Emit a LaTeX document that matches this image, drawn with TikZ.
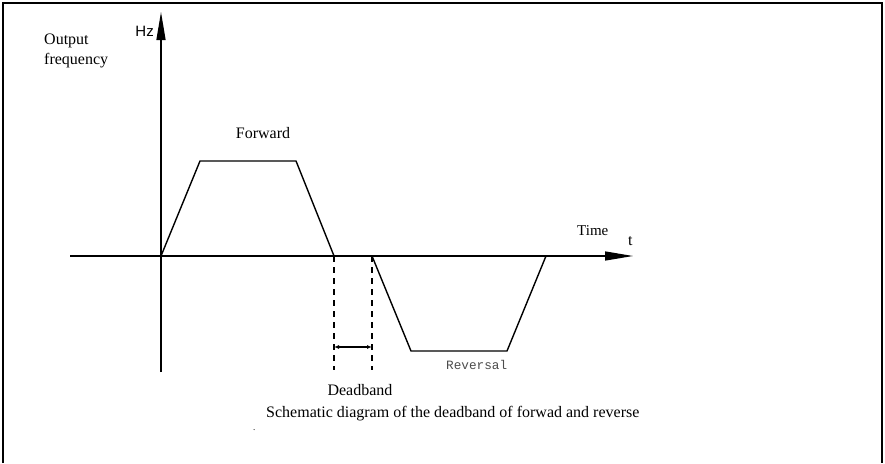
\documentclass[tikz,border=0pt]{standalone}
\usepackage{fontspec}
\setmainfont{Liberation Serif}
\setmonofont{Liberation Mono}
\newfontfamily\axisfont{Liberation Sans}
\usetikzlibrary{arrows.meta,positioning,calc}

\tikzset{
  curve/.style={line width=1.4pt, line join=round},
  axisline/.style={line width=1.4pt, -{Triangle[length=28pt,width=9pt]}},
  guideline/.style={line width=1.2pt, dash pattern=on 6pt off 5pt},
  textlabel/.style={inner sep=0pt, font=\fontsize{16}{19.5}\selectfont},
}

\begin{document}
\begin{tikzpicture}[
      x=1pt,
      y=-1pt,
      line cap=butt
    ]
      \useasboundingbox (0,0) rectangle (885,463);

      % Open frame: the bottom edge is cut off.
      \draw[line width=2pt] (3,463) -- (3,3) -- (882,3) -- (882,463);

      % Axes, both ending in long filled heads.
      \coordinate (origin)      at (161,256);
      \coordinate (time-start)  at (70,256);
      \coordinate (time-end)    at (633,256);
      \coordinate (freq-start)  at (161,372);
      \coordinate (freq-end)    at (161,12);
      \draw[axisline] (time-start) -- (time-end);
      \draw[axisline] (freq-start) -- (freq-end);

      % Forward run above the time axis.
      \coordinate (fwd-top-left)  at (200,161);
      \coordinate (fwd-top-right) at (296,161);
      \coordinate (fwd-stop)      at (334,256);
      \draw[curve] (origin) -- (fwd-top-left) -- (fwd-top-right) -- (fwd-stop);

      % Reversal run below the time axis.
      \coordinate (rev-start)        at (372,256);
      \coordinate (rev-bottom-left)  at (411,351);
      \coordinate (rev-bottom-right) at (507,351);
      \coordinate (rev-stop)         at (546,256);
      \draw[curve] (rev-start) -- (rev-bottom-left) -- (rev-bottom-right) -- (rev-stop);

      % Deadband markers and the gap between them.
      \coordinate (dead-left-end)  at (334,370);
      \coordinate (dead-right-end) at (372,370);
      \draw[guideline] (fwd-stop) -- (dead-left-end);
      \draw[guideline] (rev-start) -- (dead-right-end);
      \coordinate (gap-left)  at (334,347);
      \coordinate (gap-right) at (372,347);
      \draw[line width=1.1pt, {Latex[length=5pt,width=4pt]}-{Latex[length=5pt,width=4pt]}]
        (gap-left) -- (gap-right);

      % Labels.
      \node[textlabel, anchor=north west, align=left] (freq-label) at (44,34) {Output\\frequency};
      \node[inner sep=0pt, anchor=base east, font=\axisfont\fontsize{15}{18}\selectfont] (hz-label) at (154,36) {Hz};
      \node[textlabel, anchor=base] (forward-label) at (263,138) {Forward};
      \node[inner sep=0pt, anchor=base west, font=\fontsize{15}{18}\selectfont] (time-label) at (577,235) {Time};
      \node[textlabel, anchor=base west] (t-label) at (628,245) {t};
      \node[inner sep=0pt, anchor=base west, text=black!70, font=\ttfamily\fontsize{12.7}{15}\selectfont] (reversal-label) at (446,369) {Reversal};
      \node[textlabel, anchor=base] (deadband-label) at (360,395) {Deadband};
      \node[textlabel, anchor=base west] (caption) at (266,417) {Schematic diagram of the deadband of forwad and reverse};
      \node[inner sep=0pt, anchor=base west, font=\fontsize{9}{10}\selectfont] (stray-dot) at (253,430) {.};
    \end{tikzpicture}
\end{document}
